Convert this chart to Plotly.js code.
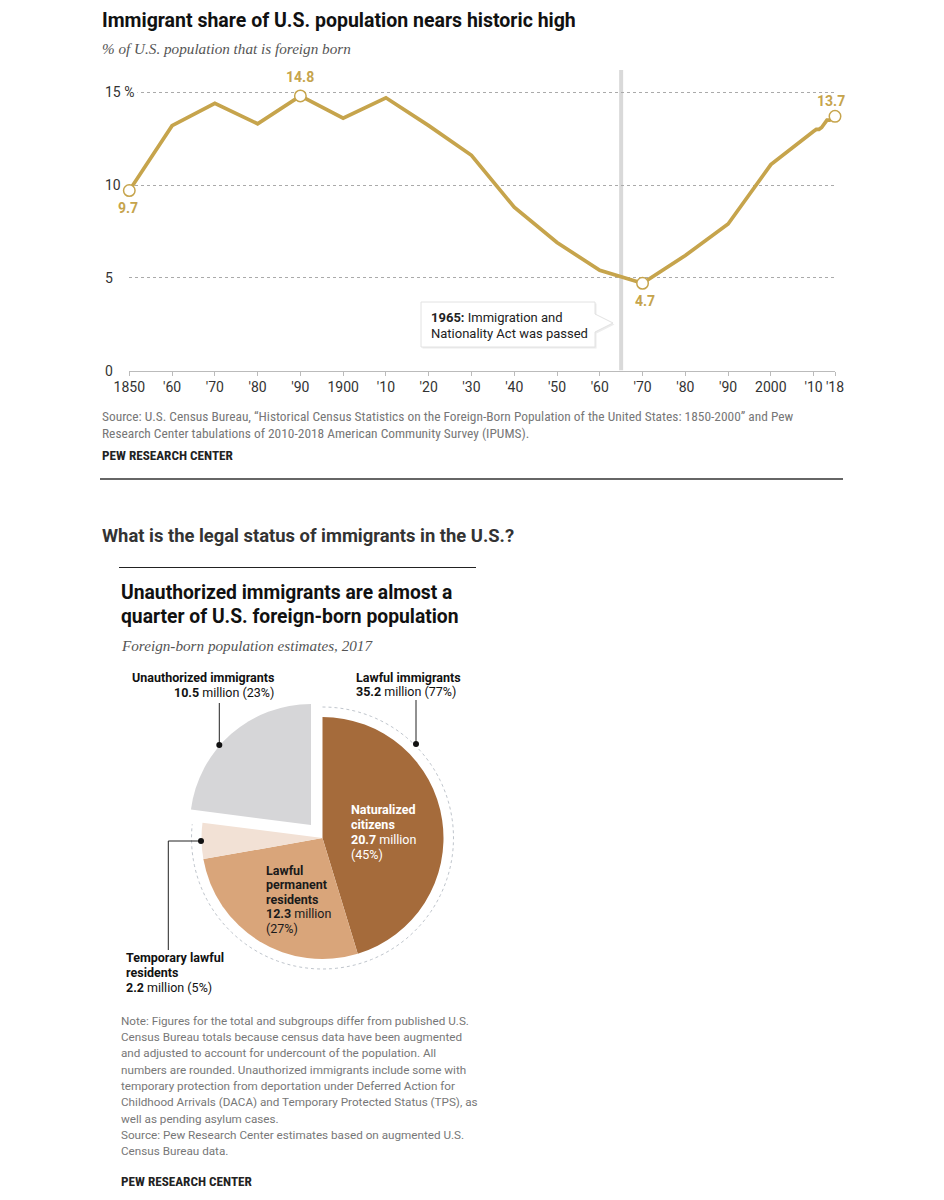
<!DOCTYPE html>
<html><head><meta charset="utf-8">
<script src="https://cdn.plot.ly/plotly-3.0.1.min.js"></script>
<style>html,body{margin:0;padding:0;background:#fff;}#chart{width:944px;height:1200px;}</style>
</head><body><div id="chart"></div>
<script>
// ---------- DATA ----------
const years = [1850,1860,1870,1880,1890,1900,1910,1920,1930,1940,1950,1960,1970,1980,1990,2000,2010,2011,2012,2013,2014,2015,2016,2017,2018];
const foreignBornPct = [9.7,13.2,14.4,13.3,14.8,13.6,14.7,13.2,11.6,8.8,6.9,5.4,4.7,6.2,7.9,11.1,12.9,13.0,13.0,13.1,13.3,13.5,13.5,13.6,13.7];
const highlightYears = [1850,1890,1970,2018];
const xTickYears = [1850,1860,1870,1880,1890,1900,1910,1920,1930,1940,1950,1960,1970,1980,1990,2000,2010,2018];
const xTickLabels = ["1850","'60","'70","'80","'90","1900","'10","'20","'30","'40","'50","'60","'70","'80","'90","2000","'10","'18"];
const yTickVals = [0,5,10,15];
const yTickLabels = ["0","5","10","15 %"];
const actYear = 1965;

const statusLabels = ["Naturalized citizens","Lawful permanent residents","Temporary lawful residents","Unauthorized immigrants"];
const statusMillions = [20.7,12.3,2.2,10.5];
const statusShares = [45,27,5,23];
const lawfulMillions = 35.2;
const lawfulShare = 77;

// ---------- HELPERS ----------
const W = 944, H = 1200;
const px = x => x / W;
const py = y => 1 - y / H;
// annual points after 2010 are drawn on a compressed scale
const xPos = y => (y <= 2010 ? y : 2010 + (y - 2010) * 0.625);

const GOLD = '#C6A44C';
const SANS = 'Roboto, Liberation Sans, sans-serif';
const NARROW = 'Liberation Sans Narrow, Roboto Condensed, Arial Narrow, sans-serif';
const SERIF = 'Liberation Serif, DejaVu Serif, serif';

const annotations = [];
const shapes = [];
function txt(x, y, text, o) {
  o = o || {};
  annotations.push({
    xref: 'paper', yref: 'paper', x: px(x), y: py(y), text: text, showarrow: false,
    xanchor: o.anchor || 'left', yanchor: 'middle', align: o.anchor || 'left',
    font: {family: o.family || SANS, size: o.size || 12, color: o.color || '#222',
           weight: o.weight || 'normal', style: o.style || 'normal'}
  });
}
function lines(x, y0, dy, arr, o) { arr.forEach((t, i) => txt(x, y0 + i * dy, t, o)); }
function hline(x0, x1, y, color, w) {
  shapes.push({type: 'line', xref: 'paper', yref: 'paper', x0: px(x0), x1: px(x1), y0: py(y), y1: py(y),
               line: {color: color, width: w}});
}
function seg(pts, color, w, dash) {
  const d = pts.map((p, i) => (i ? 'L' : 'M') + px(p[0]) + ',' + py(p[1])).join(' ');
  shapes.push({type: 'path', xref: 'paper', yref: 'paper', path: d, line: {color: color, width: w, dash: dash || 'solid'}});
}
function dot(x, y, r) {
  shapes.push({type: 'circle', xref: 'paper', yref: 'paper', x0: px(x - r), x1: px(x + r), y0: py(y + r), y1: py(y - r),
               fillcolor: '#111', line: {width: 0}});
}

// ---------- LINE CHART ----------
const lineTrace = {
  type: 'scatter', mode: 'lines', x: years.map(xPos), y: foreignBornPct,
  line: {color: GOLD, width: 3.7}, hoverinfo: 'skip', cliponaxis: false, xaxis: 'x', yaxis: 'y'
};
const hiVals = highlightYears.map(y => foreignBornPct[years.indexOf(y)]);
const hiTrace = {
  type: 'scatter', mode: 'markers', x: highlightYears.map(xPos), y: hiVals,
  marker: {size: 11.5, color: '#fff', line: {color: GOLD, width: 1.5}},
  hoverinfo: 'skip', cliponaxis: false, xaxis: 'x', yaxis: 'y'
};
// value labels next to highlighted points
const labelShift = [[-1, -17.5], [0, 18.5], [2, -18], [-4, 15.5]];
highlightYears.forEach((yr, i) => annotations.push({
  xref: 'x', yref: 'y', x: xPos(yr), y: hiVals[i], text: hiVals[i].toFixed(1), showarrow: false,
  xanchor: 'center', yanchor: 'middle', xshift: labelShift[i][0], yshift: labelShift[i][1],
  font: {family: SANS, size: 14, color: GOLD, weight: 'bold'}
}));

yTickVals.forEach((v, i) => annotations.push({
  xref: 'paper', yref: 'y', x: px(101), y: v, text: yTickLabels[i], showarrow: false,
  xanchor: 'left', yanchor: 'middle', bgcolor: v === 15 ? '#fff' : 'rgba(0,0,0,0)', borderpad: 3,
  font: {family: SANS, size: 14, color: '#333'}
}));

// 1965 marker line
shapes.push({type: 'line', xref: 'x', yref: 'y', x0: actYear, x1: actYear, y0: 0, y1: 16.2,
             line: {color: '#D9D9D9', width: 4}, layer: 'below'});

// callout box
const box = [[421,302],[595,302],[595,314],[613,323],[595,332],[595,347],[421,347]];
const boxPath = off => box.map((p, i) => (i ? 'L' : 'M') + px(p[0] + off) + ',' + py(p[1] + off)).join(' ') + ' Z';
shapes.push({type: 'path', xref: 'paper', yref: 'paper', path: boxPath(1.5), fillcolor: '#ececec', line: {width: 0}});
shapes.push({type: 'path', xref: 'paper', yref: 'paper', path: boxPath(0), fillcolor: '#fff', line: {color: '#e2e2e2', width: 1}});
txt(429, 317, '<b>' + actYear + ':</b> Immigration and', {size: 13});
txt(429, 333, 'Nationality Act was passed', {size: 13});

// titles & notes, top
txt(100, 21, 'Immigrant share of U.S. population nears historic high', {size: 19.5, weight: 'bold', color: '#111'});
txt(100, 48, '% of U.S. population that is foreign born', {family: SERIF, size: 15.2, style: 'italic', color: '#555'});
lines(100, 416, 17, [
  'Source: U.S. Census Bureau, \u201CHistorical Census Statistics on the Foreign-Born Population of the United States: 1850-2000\u201D and Pew',
  'Research Center tabulations of 2010-2018 American Community Survey (IPUMS).'
], {family: NARROW, size: 13.4, color: '#777'});
txt(100, 455, 'PEW RESEARCH CENTER', {family: NARROW, size: 13.2, weight: 'bold', color: '#222'});
hline(100, 843, 479, '#333', 1.5);

// ---------- PIE ----------
txt(100, 535, 'What is the legal status of immigrants in the U.S.?', {size: 18.4, weight: 'bold', color: '#333'});
hline(119, 476, 567.5, '#222', 1.2);
txt(119, 592, 'Unauthorized immigrants are almost a', {size: 19.3, weight: 'bold', color: '#111'});
txt(119, 616, 'quarter of U.S. foreign-born population', {size: 19.3, weight: 'bold', color: '#111'});
txt(119, 645, 'Foreign-born population estimates, 2017', {family: SERIF, size: 15.2, style: 'italic', color: '#555'});

const CX = 322.5, CY = 838, R = 121, PULL = 0.144;
const half = R * (1 + PULL);
const pieTrace = {
  type: 'pie', values: statusMillions, labels: statusLabels, sort: false, direction: 'clockwise', rotation: 0,
  marker: {colors: ['#A56B3B', '#D9A57A', '#F2E1D5', '#D6D6D8'], line: {width: 0}},
  pull: [0, 0, 0, PULL], textinfo: 'none', hoverinfo: 'skip', showlegend: false,
  domain: {x: [px(CX - half), px(CX + half)], y: [py(CY + half), py(CY - half)]}
};

// dotted ring around the lawful portion
const lawfulAngle = 360 * (statusMillions[0] + statusMillions[1] + statusMillions[2]) / statusMillions.reduce((a, b) => a + b, 0);
const ring = [];
for (let a = 0; a <= lawfulAngle; a += 2) {
  const t = a * Math.PI / 180;
  ring.push([CX + 131 * Math.sin(t), CY - 131 * Math.cos(t)]);
}
seg(ring, '#BFC5CC', 1, 'dot');

// leader lines
seg([[219.3, 703], [219.3, 745]], '#222', 1); dot(219.3, 745, 3);
seg([[416, 700], [416, 744]], '#222', 1); dot(416, 744, 3);
seg([[201, 841], [168.3, 841], [168.3, 950]], '#222', 1); dot(201, 841, 3);

// outer labels
txt(275.5, 678, '<b>Unauthorized immigrants</b>', {anchor: 'right', size: 12.5, color: '#111'});
txt(275.5, 692, '<b>' + statusMillions[3] + '</b> million (' + statusShares[3] + '%)', {anchor: 'right', size: 12.5, color: '#111'});
txt(354, 677, '<b>Lawful immigrants</b>', {size: 12.5, color: '#111'});
txt(354, 691, '<b>' + lawfulMillions + '</b> million (' + lawfulShare + '%)', {size: 12.5, color: '#111'});
lines(124, 957, 15, ['<b>Temporary lawful</b>', '<b>residents</b>',
  '<b>' + statusMillions[2] + '</b> million (' + statusShares[2] + '%)'], {size: 12.5, color: '#111'});

// inner labels
lines(349, 809, 15, ['<b>Naturalized</b>', '<b>citizens</b>',
  '<b>' + statusMillions[0] + '</b> million', '(' + statusShares[0] + '%)'], {size: 12.5, color: '#fff'});
lines(264, 870, 14.5, ['<b>Lawful</b>', '<b>permanent</b>', '<b>residents</b>',
  '<b>' + statusMillions[1] + '</b> million', '(' + statusShares[1] + '%)'], {size: 12.5, color: '#1a1a1a'});

// note
lines(119.3, 1020.7, 16.3, [
  'Note: Figures for the total and subgroups differ from published U.S.',
  'Census Bureau totals because census data have been augmented',
  'and adjusted to account for undercount of the population. All',
  'numbers are rounded. Unauthorized immigrants include some with',
  'temporary protection from deportation under Deferred Action for',
  'Childhood Arrivals (DACA) and Temporary Protected Status (TPS), as',
  'well as pending asylum cases.',
  'Source: Pew Research Center estimates based on augmented U.S.',
  'Census Bureau data.'
], {size: 11.7, color: '#777'});
txt(119.3, 1181.5, 'PEW RESEARCH CENTER', {family: NARROW, size: 13.2, weight: 'bold', color: '#222'});

// ---------- LAYOUT ----------
const layout = {
  width: W, height: H, margin: {l: 0, r: 0, t: 0, b: 0}, paper_bgcolor: '#fff', plot_bgcolor: 'rgba(0,0,0,0)',
  showlegend: false,
  xaxis: {domain: [px(129.3), px(835)], range: [1850, xPos(2018)], tickvals: xTickYears.map(xPos), ticktext: xTickLabels,
          tickangle: 0, ticks: 'outside', ticklen: 4, tickcolor: '#bbb', showline: true, linecolor: '#bbb', linewidth: 1,
          showgrid: false, zeroline: false, fixedrange: true,
          tickfont: {family: SANS, size: 14, color: '#333'}},
  yaxis: {domain: [py(370.5), py(70)], range: [0, 16.2], tickvals: [5, 10, 15], showticklabels: false, ticks: '',
          showgrid: true, gridcolor: '#aaa', griddash: 'dot', gridwidth: 1, zeroline: false, showline: false, fixedrange: true},
  annotations: annotations, shapes: shapes
};

Plotly.newPlot('chart', [lineTrace, hiTrace, pieTrace], layout, {staticPlot: true, displayModeBar: false});
</script>
</body></html>
